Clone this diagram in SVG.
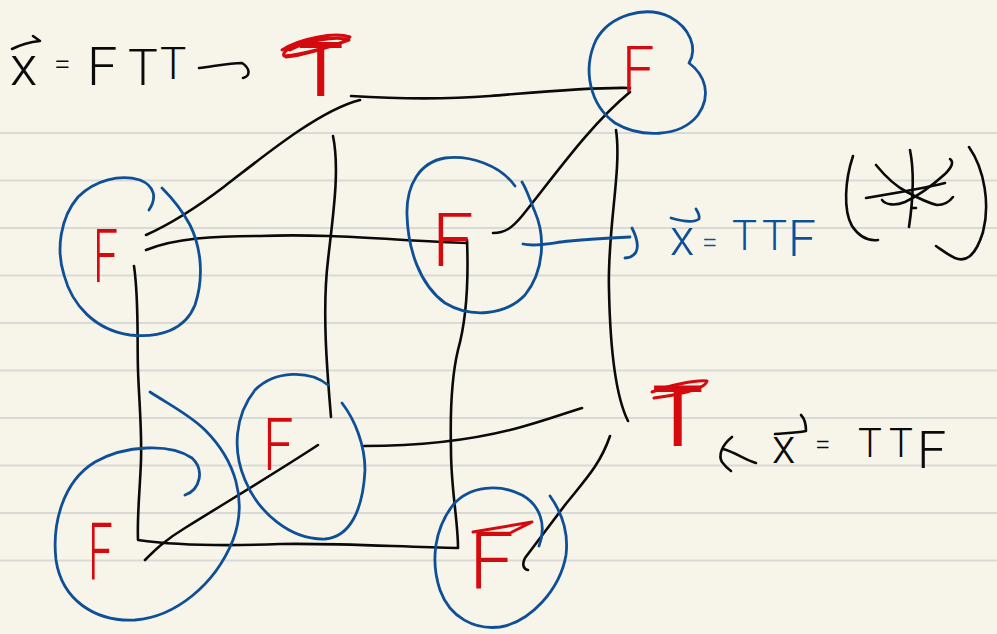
<svg xmlns="http://www.w3.org/2000/svg" width="997" height="634" viewBox="0 0 997 634">
<style>
.rule{stroke:#d9d9d6;stroke-width:2}
.k{fill:none;stroke:#0a0a0a;stroke-width:2.6;stroke-linecap:round;stroke-linejoin:round}
.b{fill:none;stroke:#0f4f96;stroke-width:2.8;stroke-linecap:round;stroke-linejoin:round}
.r{fill:none;stroke:#d40a0f;stroke-width:3;stroke-linecap:round;stroke-linejoin:round}
text{font-family:"Roboto","Liberation Sans",sans-serif;font-weight:300}
.tk{fill:#0a0a0a}
.tb{fill:#0f4f96}
.tr{fill:#d40a0f}
</style>
<rect width="997" height="634" fill="#f7f5ea"/>
<g id="ruled-lines">
<path class="rule" d="M0 133H997M0 180.500H997M0 228H997M0 275.500H997M0 323H997M0 370.500H997M0 418H997M0 465.500H997M0 513H997M0 560.500H997"/>
</g>
<g id="connectors">
<path class="k" d="M146 235C175 222 200 205 225 186C265 155 320 110 360 100"/>
<path class="k" d="M351 96C400 99 450 99 490 96C540 92 590 87 630 88"/>
<path class="k" d="M146 250C175 238 215 236 260 236C330 233 400 241 467 243"/>
<path class="k" d="M493 233C505 233 512 228 522 216C555 175 590 125 630 92"/>
<path class="k" d="M134 266C139 300 137 340 138 370C139 400 142 430 141 460C140 490 137 515 138 540C180 546 230 546 280 544C340 543 400 547 458 548C458 520 451 490 451 450C450 410 452 375 458 350C465 325 469 290 467 240"/>
<path class="k" d="M333 136C340 170 333 215 328 260C322 310 327 370 331 417"/>
<path class="k" d="M145 560C155 550 165 540 185 528C230 500 280 470 318 445"/>
<path class="k" d="M364 446C420 446 470 440 510 430C535 424 560 415 582 408"/>
<path class="k" d="M616 130C622 170 607 230 609 290C610 340 615 395 628 421"/>
<path class="k" d="M610 436C600 465 585 480 565 505C550 525 535 545 525 558C522 564 523 569 528 570"/>
<path class="b" d="M523 244C535 247 550 243 570 241C590 239 610 238 630 237M632 228C637 238 639 246 636 252C633 257 629 258 625 258"/>
</g>
<g id="node-top-left">
<path class="b" d="M149 210C157 198 155 186 140 180C120 174 95 180 78 197C60 218 56 250 64 275C72 305 95 330 130 335C160 338 185 330 195 305C205 275 200 245 190 225C182 210 172 198 162 188"/>
<text class="tr" transform="translate(93 282) scale(.6 1)" font-size="74">F</text>
</g>
<g id="node-centre">
<path class="b" d="M515 186C500 165 470 155 445 158C420 162 406 185 407 215C408 250 420 285 445 303C470 318 505 316 525 295C545 270 545 235 535 212C530 200 527 190 522 182"/>
<text class="tr" x="432" y="266" font-size="74">F</text>
</g>
<g id="node-top-right">
<path class="b" d="M689 63C698 48 690 28 670 17C645 5 610 15 596 40C582 70 590 105 615 123C640 138 680 138 698 115C712 95 705 75 689 63"/>
<text class="tr" transform="translate(622 92) scale(.9 1)" font-size="64">F</text>
</g>
<g id="node-lower-mid">
<path class="b" d="M328 385C310 370 275 370 255 390C235 415 232 450 245 480C258 512 290 540 325 539C350 537 363 510 365 470C365 445 355 420 342 403"/>
<text class="tr" transform="translate(263 470) scale(.75 1)" font-size="72">F</text>
</g>
<g id="node-lower-left">
<path class="b" d="M185 495C200 490 205 470 192 458C170 443 125 445 95 462C62 482 52 525 56 560C62 600 95 622 135 620C175 617 215 585 233 540C248 500 235 460 205 430C190 415 170 405 150 392"/>
<text class="tr" transform="translate(88 580) scale(.55 1)" font-size="80">F</text>
</g>
<g id="node-lower-right">
<path class="b" d="M539 546C547 525 540 505 522 495C500 484 470 485 453 505C435 528 430 560 440 590C450 618 475 630 500 627C530 622 560 590 566 555C569 530 560 510 550 496"/>
<text class="tr" x="469" y="589" font-size="80">F</text>
<path class="r" d="M473 532L532 522L512 532"/>
</g>
<g id="node-top-t">
<text class="tr" x="298" y="96" font-size="76" style="font-weight:400">T</text>
<path class="r" d="M282 50C300 38 335 32 350 37C345 44 300 55 284 56C280 50 305 40 330 36M286 57C305 55 335 45 349 40C335 35 305 42 290 50" stroke-width="3.500"/>
</g>
<g id="node-right-t">
<text class="tr" x="652" y="446" font-size="86" style="font-weight:400">T</text>
<path class="r" d="M652 392C670 385 695 380 707 381C705 390 675 395 654 398"/>
</g>
<g id="label-top">
<text class="tk" x="10" y="85" font-size="56">x</text>
<path class="k" d="M12 49C20 45 30 42 40 41L33 36"/>
<text class="tk" x="54" y="74" font-size="30">=</text>
<text class="tk" x="87" y="85" font-size="54">F</text>
<text class="tk" x="128" y="85" font-size="50">T</text>
<text class="tk" x="160" y="79" font-size="44">T</text>
<path class="k" d="M199 68C215 66 230 63 242 63C250 68 251 76 243 78"/>
</g>
<g id="label-blue">
<text class="tb" x="670" y="255" font-size="50">x</text>
<path class="b" d="M671 218C685 222 695 222 699 219C700 215 698 212 696 209"/>
<text class="tb" x="702" y="252" font-size="28">=</text>
<text class="tb" x="732" y="250" font-size="42">T</text>
<text class="tb" x="762" y="250" font-size="42">T</text>
<text class="tb" x="788" y="256" font-size="50">F</text>
</g>
<g id="label-star">
<path class="k" d="M853 156C845 180 843 210 852 226C860 238 870 241 878 240"/>
<path class="k" d="M969 147C985 170 990 205 983 232C975 258 965 262 955 258C948 255 942 250 936 246"/>
<path class="k" d="M910 150C914 170 913 200 909 227M913 208L916 208"/>
<path class="k" d="M876 165C885 176 895 186 907 192C918 198 928 203 937 205C945 205 950 201 953 197"/>
<path class="k" d="M866 198C890 194 925 188 945 183"/>
<path class="k" d="M882 200C886 205 895 206 905 202C920 195 935 183 945 174C952 167 954 162 950 159"/>
</g>
<g id="label-lower">
<path class="k" d="M732 437C722 445 718 455 722 462C725 466 728 469 731 471M723 449C735 452 745 460 756 463"/>
<text class="tk" x="772" y="463" font-size="48">x</text>
<path class="k" d="M775 434C785 433 795 433 806 431C806 424 804 418 801 415"/>
<text class="tk" x="815" y="454" font-size="28">=</text>
<text class="tk" x="858" y="457" font-size="40">T</text>
<text class="tk" x="889" y="457" font-size="40">T</text>
<text class="tk" x="917" y="468" font-size="52">F</text>
</g>
</svg>
